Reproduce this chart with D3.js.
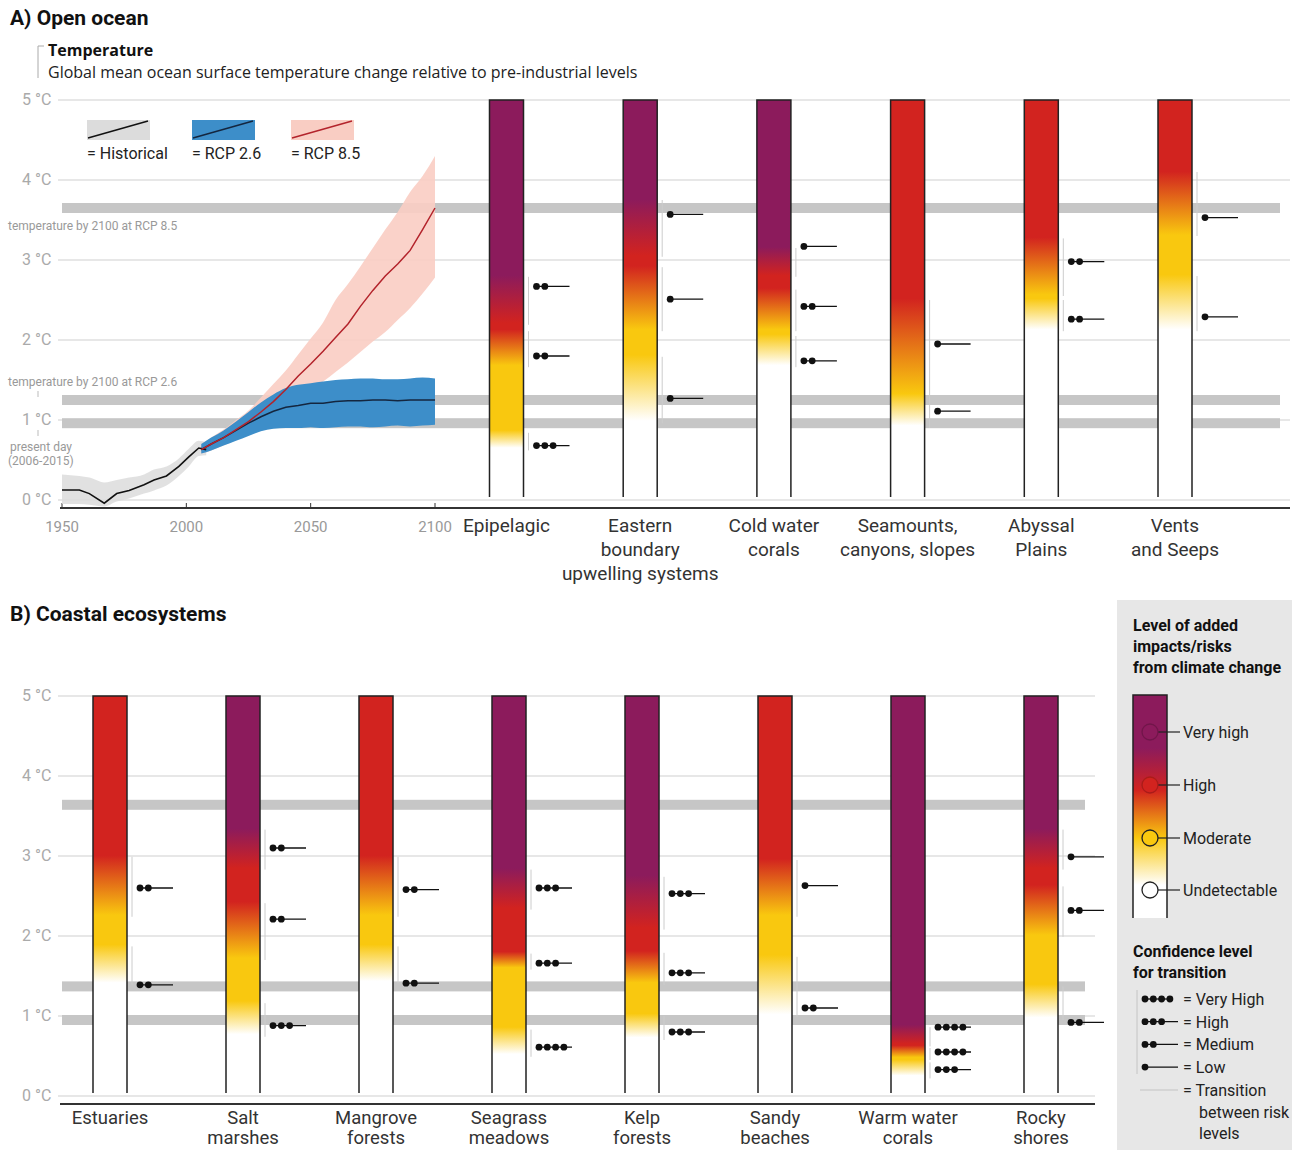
<!DOCTYPE html>
<html><head><meta charset="utf-8">
<script src="https://cdn.jsdelivr.net/npm/d3@7"></script>
<style>body{margin:0;background:#fff}svg{display:block}</style>
</head><body>
<svg id="chart" width="1292" height="1150"></svg>
<script>
// ---------------- DATA ----------------
const levelNames = ["Undetectable", "Moderate", "High", "Very high"];
const levelColors = ["#ffffff", "#f9c80f", "#d2231f", "#8c1b5c"];

const tempTicks = [0, 1, 2, 3, 4, 5];
const yearTicks = [1950, 2000, 2050, 2100];

// Open ocean ecosystems
const openNames = ["Epipelagic", "Eastern", "Cold water", "Seamounts", "Abyssal", "Vents"];
const openLabels = [["Epipelagic"], ["Eastern", "boundary", "upwelling systems"], ["Cold water", "corals"],
  ["Seamounts,", "canyons, slopes"], ["Abyssal", "Plains"], ["Vents", "and Seeps"]];
// transition: [fromLevel, toLevel, tempStart, tempEnd, tempMarker, confidence]
const openTransitions = [
  [[0, 1, 0.62, 0.84, 0.68, 3], [1, 2, 1.66, 2.11, 1.80, 2], [2, 3, 2.19, 2.79, 2.67, 2]],
  [[0, 1, 0.96, 1.79, 1.27, 1], [1, 2, 2.11, 2.91, 2.51, 1], [2, 3, 3.04, 3.75, 3.57, 1]],
  [[0, 1, 1.66, 2.05, 1.74, 2], [1, 2, 2.11, 2.63, 2.42, 2], [2, 3, 2.79, 3.15, 3.17, 1]],
  [[0, 1, 0.90, 1.30, 1.11, 1], [1, 2, 1.30, 2.50, 1.95, 1]],
  [[0, 1, 2.11, 2.50, 2.26, 2], [1, 2, 2.55, 3.27, 2.98, 2]],
  [[0, 1, 2.11, 2.80, 2.29, 1], [1, 2, 3.30, 4.10, 3.53, 1]]
];
const bandsOpen = [3.65, 1.25, 0.96];

// Coastal ecosystems
const coastalNames = ["Estuaries", "Salt marshes", "Mangrove forests", "Seagrass meadows", "Kelp forests", "Sandy beaches", "Warm water corals", "Rocky shores"];
const coastalLabels = [["Estuaries"], ["Salt", "marshes"], ["Mangrove", "forests"], ["Seagrass", "meadows"],
  ["Kelp", "forests"], ["Sandy", "beaches"], ["Warm water", "corals"], ["Rocky", "shores"]];
const coastalTransitions = [
  [[0, 1, 1.39, 1.87, 1.39, 2], [1, 2, 2.24, 2.99, 2.60, 2]],
  [[0, 1, 0.74, 1.16, 0.88, 3], [1, 2, 1.70, 2.41, 2.21, 2], [2, 3, 2.83, 3.33, 3.10, 2]],
  [[0, 1, 1.41, 1.87, 1.41, 2], [1, 2, 2.24, 2.99, 2.58, 2]],
  [[0, 1, 0.49, 0.83, 0.61, 4], [1, 2, 1.58, 1.78, 1.66, 3], [2, 3, 2.33, 2.83, 2.60, 3]],
  [[0, 1, 0.70, 1.00, 0.80, 3], [1, 2, 1.39, 1.79, 1.54, 3], [2, 3, 2.08, 2.74, 2.53, 3]],
  [[0, 1, 0.99, 1.74, 1.10, 2], [1, 2, 2.24, 2.95, 2.63, 1]],
  [[0, 1, 0.22, 0.42, 0.33, 3], [1, 2, 0.45, 0.60, 0.55, 4], [2, 3, 0.62, 0.86, 0.86, 4]],
  [[0, 1, 0.95, 1.37, 0.92, 2], [1, 2, 1.99, 2.62, 2.32, 2], [2, 3, 2.83, 3.33, 2.99, 1]]
];
const bandsCoastal = [3.64, 1.37, 0.95];

// Temperature time series
const histYears = [1950, 1957, 1961, 1967, 1972, 1977, 1983, 1987, 1992, 1997, 2001, 2005, 2008];
const histTemp  = [0.125, 0.125, 0.08, -0.04, 0.08, 0.12, 0.19, 0.25, 0.30, 0.42, 0.54, 0.65, 0.63];
const histLow   = [-0.05, -0.05, -0.06, -0.08, -0.02, 0.02, 0.08, 0.12, 0.18, 0.30, 0.42, 0.55, 0.56];
const histHigh  = [0.32, 0.30, 0.28, 0.22, 0.25, 0.28, 0.32, 0.38, 0.42, 0.52, 0.64, 0.74, 0.72];

const rcpYears = [2006, 2010, 2015, 2020, 2025, 2030, 2035, 2040, 2045, 2050, 2055, 2060, 2065, 2070, 2075, 2080, 2085, 2090, 2095, 2100];
const rcp85Temp = [0.63, 0.70, 0.78, 0.88, 0.98, 1.10, 1.23, 1.38, 1.55, 1.70, 1.86, 2.03, 2.20, 2.42, 2.62, 2.80, 2.95, 3.12, 3.38, 3.65];
const rcp85Low  = [0.58, 0.62, 0.68, 0.75, 0.82, 0.92, 1.02, 1.12, 1.25, 1.38, 1.48, 1.60, 1.72, 1.85, 1.98, 2.10, 2.25, 2.40, 2.58, 2.78];
const rcp85High = [0.70, 0.78, 0.88, 1.00, 1.12, 1.28, 1.45, 1.62, 1.82, 2.02, 2.22, 2.50, 2.70, 2.92, 3.15, 3.38, 3.60, 3.85, 4.05, 4.30];
const rcp26Temp = [0.63, 0.70, 0.78, 0.87, 0.96, 1.04, 1.11, 1.16, 1.18, 1.21, 1.21, 1.23, 1.24, 1.24, 1.25, 1.25, 1.24, 1.25, 1.25, 1.25];
const rcp26Low  = [0.58, 0.62, 0.68, 0.74, 0.80, 0.86, 0.89, 0.90, 0.90, 0.91, 0.90, 0.91, 0.92, 0.92, 0.91, 0.92, 0.93, 0.92, 0.93, 0.94];
const rcp26High = [0.70, 0.78, 0.87, 0.98, 1.10, 1.22, 1.32, 1.40, 1.44, 1.46, 1.48, 1.50, 1.51, 1.52, 1.52, 1.51, 1.51, 1.52, 1.53, 1.52];

const seriesNames = ["Historical", "RCP 2.6", "RCP 8.5"];
const seriesFill = ["#dcdcdc", "#3d8ec9", "#f9cdc3"];
const seriesLine = ["#111111", "#14263f", "#b3232b"];

const confNames = ["Very High", "High", "Medium", "Low"];
const confDots = [4, 3, 2, 1];

// ---------------- DRAWING ----------------
const NARROW = "Roboto,'Liberation Sans',sans-serif";
const REG = "'Open Sans','Liberation Sans',sans-serif";
const svg = d3.select("#chart");
const defs = svg.append("defs");

const yA = d3.scaleLinear([0, 5], [500, 100]);
const yB = d3.scaleLinear([0, 5], [1096, 696]);
const xYear = d3.scaleLinear([1950, 2100], [62, 435]);
const xOpen = d3.scalePoint(openNames, [506.5, 1175]);
const xCoast = d3.scalePoint(coastalNames, [110, 1041]);
const BW = 34;

// titles
svg.append("text").attr("x", 10).attr("y", 25).attr("font-family", NARROW).attr("font-weight", "bold")
  .attr("font-size", 21).attr("fill", "#111").text("A) Open ocean");
svg.append("text").attr("x", 10).attr("y", 621).attr("font-family", NARROW).attr("font-weight", "bold")
  .attr("font-size", 21).attr("fill", "#111").text("B) Coastal ecosystems");

// temperature header
svg.append("path").attr("d", "M44,46 H38 V78").attr("fill", "none").attr("stroke", "#aaa").attr("stroke-width", 1);
svg.append("text").attr("x", 48).attr("y", 56).attr("font-family", REG).attr("font-weight", "bold")
  .attr("font-size", 16).attr("fill", "#111").text("Temperature");
svg.append("text").attr("x", 48).attr("y", 78).attr("font-family", REG)
  .attr("font-size", 16).attr("fill", "#222").text("Global mean ocean surface temperature change relative to pre-industrial levels");

function grid(g, y, x0, x1, bands) {
  tempTicks.forEach(t => {
    g.append("line").attr("x1", x0).attr("x2", x1).attr("y1", y(t)).attr("y2", y(t))
      .attr("stroke", "#cfcfcf").attr("stroke-width", 1);
    g.append("text").attr("x", 22).attr("y", y(t) + 5).attr("font-family", NARROW).attr("font-size", 16)
      .attr("fill", "#aaa").text(t + " °C");
  });
  bands.forEach(b => {
    g.append("rect").attr("x", x0 + 4).attr("width", x1 - x0 - 14).attr("y", y(b) - 5).attr("height", 10)
      .attr("fill", "#c6c6c6");
  });
}
const gA = svg.append("g");
grid(gA, yA, 58, 1290, bandsOpen);
const gB = svg.append("g");
grid(gB, yB, 58, 1095, bandsCoastal);

// small annotations panel A
const note = (x, y, s) => gA.append("text").attr("x", x).attr("y", y).attr("font-family", NARROW)
  .attr("font-size", 12).attr("fill", "#999").text(s);
note(8, 230, "temperature by 2100 at RCP 8.5");
note(8, 386, "temperature by 2100 at RCP 2.6");
note(10, 451, "present day");
note(8, 465, "(2006-2015)");
gA.append("line").attr("x1", 38).attr("x2", 38).attr("y1", 391).attr("y2", 397).attr("stroke", "#bbb");
gA.append("line").attr("x1", 38).attr("x2", 38).attr("y1", 430).attr("y2", 436).attr("stroke", "#bbb");

// axes lines
gA.append("line").attr("x1", 60).attr("x2", 1290).attr("y1", 508).attr("y2", 508).attr("stroke", "#333").attr("stroke-width", 2);
gB.append("line").attr("x1", 60).attr("x2", 1095).attr("y1", 1104).attr("y2", 1104).attr("stroke", "#333").attr("stroke-width", 2);
yearTicks.forEach(yr => {
  gA.append("line").attr("x1", xYear(yr)).attr("x2", xYear(yr)).attr("y1", 503).attr("y2", 508).attr("stroke", "#333");
  gA.append("text").attr("x", xYear(yr)).attr("y", 532).attr("text-anchor", "middle").attr("font-family", NARROW)
    .attr("font-size", 15).attr("fill", "#999").text(yr);
});

// time series
const area = (years, lo, hi) => d3.area().x((d, i) => xYear(years[i])).y0((d, i) => yA(lo[i])).y1((d, i) => yA(hi[i])).curve(d3.curveMonotoneX)(years);
const line = (years, v) => d3.line().x((d, i) => xYear(years[i])).y((d, i) => yA(v[i]))(years);
const gT = gA.append("g");
gT.append("path").attr("d", area(histYears, histLow, histHigh)).attr("fill", seriesFill[0]).attr("opacity", 0.85);
gT.append("path").attr("d", area(rcpYears, rcp85Low, rcp85High)).attr("fill", seriesFill[2]).attr("opacity", 0.9);
gT.append("path").attr("d", area(rcpYears, rcp26Low, rcp26High)).attr("fill", seriesFill[1]);
gT.append("path").attr("d", line(histYears, histTemp)).attr("fill", "none").attr("stroke", seriesLine[0]).attr("stroke-width", 1.6);
gT.append("path").attr("d", line(rcpYears, rcp26Temp)).attr("fill", "none").attr("stroke", seriesLine[1]).attr("stroke-width", 1.5);
gT.append("path").attr("d", line(rcpYears, rcp85Temp)).attr("fill", "none").attr("stroke", seriesLine[2]).attr("stroke-width", 1.5);

// series legend
const legX = [87, 192, 291];
seriesNames.forEach((s, i) => {
  const x = legX[i], y = 120;
  gA.append("rect").attr("x", x).attr("y", y).attr("width", 63).attr("height", 20).attr("fill", seriesFill[i]);
  gA.append("line").attr("x1", x + 1).attr("y1", y + 18).attr("x2", x + 61).attr("y2", y + 1)
    .attr("stroke", seriesLine[i]).attr("stroke-width", 1.5);
  gA.append("text").attr("x", x).attr("y", y + 39).attr("font-family", NARROW).attr("font-size", 16)
    .attr("fill", "#222").text("= " + s);
});

// bars
let gid = 0;
function gradientFor(trans) {
  const id = "g" + (gid++);
  const lg = defs.append("linearGradient").attr("id", id).attr("x1", 0).attr("y1", 1).attr("x2", 0).attr("y2", 0);
  lg.append("stop").attr("offset", 0).attr("stop-color", levelColors[trans[0][0]]);
  trans.forEach(t => {
    lg.append("stop").attr("offset", t[2] / 5).attr("stop-color", levelColors[t[0]]);
    lg.append("stop").attr("offset", t[3] / 5).attr("stop-color", levelColors[t[1]]);
  });
  lg.append("stop").attr("offset", 1).attr("stop-color", levelColors[trans[trans.length - 1][1]]);
  return id;
}
function marker(g, x, y, n, endX) {
  const sp = 8.3;
  g.append("line").attr("x1", x).attr("x2", endX).attr("y1", y).attr("y2", y).attr("stroke", "#111").attr("stroke-width", 1.3);
  for (let i = 0; i < n; i++) g.append("circle").attr("cx", x + i * sp).attr("cy", y).attr("r", 3.4).attr("fill", "#111");
}
function bars(g, names, labels, transitions, xs, y, labelY, lineH, fs) {
  names.forEach((n, i) => {
    const cx = xs(n), x0 = cx - BW / 2, x1 = cx + BW / 2;
    const id = gradientFor(transitions[i]);
    g.append("rect").attr("x", x0).attr("y", y(5)).attr("width", BW).attr("height", y(0) - y(5) - 3).attr("fill", `url(#${id})`);
    g.append("path").attr("d", `M${x0},${y(0) - 3} V${y(5)} H${x1} V${y(0) - 3}`).attr("fill", "none")
      .attr("stroke", "#222").attr("stroke-width", 1.5);
    transitions[i].forEach(t => {
      g.append("line").attr("x1", x1 + 5).attr("x2", x1 + 5).attr("y1", y(t[2])).attr("y2", y(t[3]))
        .attr("stroke", "#cccccc").attr("stroke-width", 1);
      marker(g, x1 + 13, y(t[4]), t[5], x1 + 46);
    });
    labels[i].forEach((s, k) => {
      g.append("text").attr("x", cx).attr("y", labelY + k * lineH).attr("text-anchor", "middle")
        .attr("font-family", NARROW).attr("font-size", fs).attr("fill", "#333").text(s);
    });
  });
}
bars(gA, openNames, openLabels, openTransitions, xOpen, yA, 532, 24, 19);
bars(gB, coastalNames, coastalLabels, coastalTransitions, xCoast, yB, 1124, 20, 18.5);

// ---------------- LEGEND ----------------
const gL = svg.append("g");
gL.append("rect").attr("x", 1117).attr("y", 600).attr("width", 175).attr("height", 550).attr("fill", "#e7e7e7");
["Level of added", "impacts/risks", "from climate change"].forEach((s, k) =>
  gL.append("text").attr("x", 1133).attr("y", 631 + k * 21).attr("font-family", NARROW).attr("font-weight", "bold")
    .attr("font-size", 16).attr("fill", "#111").text(s));
const lgY = [732, 785, 838, 890];
const lg = defs.append("linearGradient").attr("id", "legGrad").attr("x1", 0).attr("y1", 0).attr("x2", 0).attr("y2", 1)
  .attr("gradientUnits", "userSpaceOnUse").attr("y1", 695).attr("y2", 918);
[[695, 3], [748, 3], [790, 2], [838, 1], [885, 0], [918, 0]].forEach(d =>
  lg.append("stop").attr("offset", (d[0] - 695) / 223).attr("stop-color", levelColors[d[1]]));
gL.append("rect").attr("x", 1133).attr("y", 695).attr("width", 34).attr("height", 223).attr("fill", "url(#legGrad)");
gL.append("path").attr("d", "M1133,918 V695 H1167 V918").attr("fill", "none").attr("stroke", "#222").attr("stroke-width", 1.5);
[3, 2, 1, 0].forEach((lv, k) => {
  const y = lgY[k];
  gL.append("line").attr("x1", 1150).attr("x2", 1180).attr("y1", y).attr("y2", y).attr("stroke", "#222").attr("stroke-width", 1.2);
  gL.append("circle").attr("cx", 1150).attr("cy", y).attr("r", 8).attr("fill", levelColors[lv])
    .attr("stroke", lv >= 2 ? d3.color(levelColors[lv]).darker(0.6) : "#222").attr("stroke-width", 1.3);
  gL.append("text").attr("x", 1183).attr("y", y + 6).attr("font-family", NARROW).attr("font-size", 16)
    .attr("fill", "#222").text(levelNames[lv]);
});
["Confidence level", "for transition"].forEach((s, k) =>
  gL.append("text").attr("x", 1133).attr("y", 957 + k * 21).attr("font-family", NARROW).attr("font-weight", "bold")
    .attr("font-size", 16).attr("fill", "#111").text(s));
gL.append("line").attr("x1", 1137).attr("x2", 1137).attr("y1", 990).attr("y2", 1074).attr("stroke", "#c4c4c4");
confNames.forEach((c, k) => {
  const y = 999 + k * 22.7;
  marker(gL, 1145, y, confDots[k], confDots[k] === 4 ? 1145 + 3 * 8.3 : 1178);
  gL.append("text").attr("x", 1183).attr("y", y + 6).attr("font-family", NARROW).attr("font-size", 16)
    .attr("fill", "#222").text("= " + c);
});
gL.append("line").attr("x1", 1140).attr("x2", 1178).attr("y1", 1090).attr("y2", 1090).attr("stroke", "#cfcfcf").attr("stroke-width", 1.5);
[["= Transition", 1183], ["between risk", 1199], ["levels", 1199]].forEach((d, k) =>
  gL.append("text").attr("x", d[1]).attr("y", 1096 + k * 21.5).attr("font-family", NARROW).attr("font-size", 16)
    .attr("fill", "#222").text(d[0]));
</script>
</body></html>
